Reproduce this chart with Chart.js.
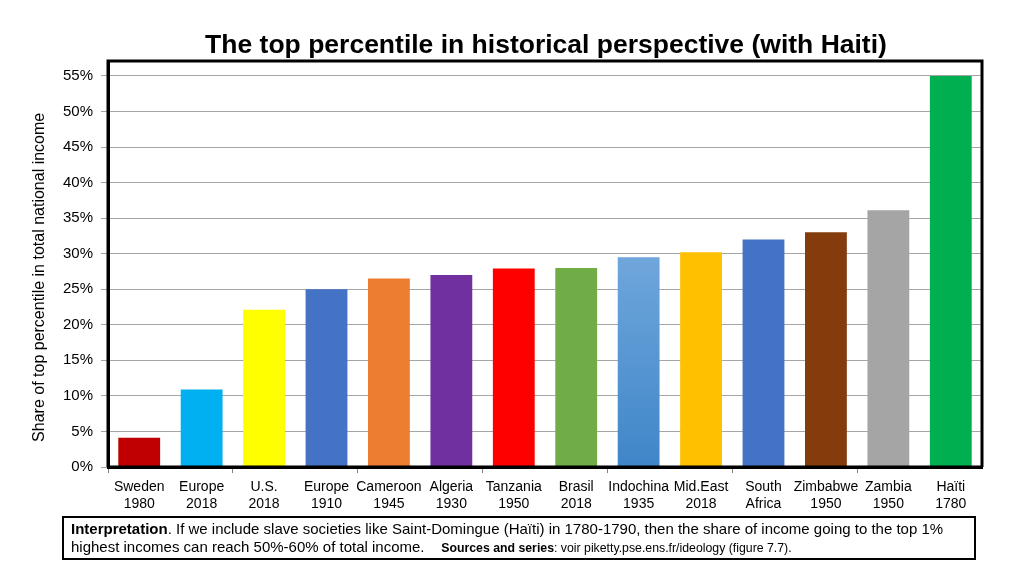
<!DOCTYPE html>
<html>
<head>
<meta charset="utf-8">
<script src="https://cdn.jsdelivr.net/npm/chart.js@4"></script>
<style>
  html, body { margin: 0; padding: 0; background: #fff; }
  #wrap { position: relative; width: 1024px; height: 576px; }
  #note {
    position: absolute; left: 62px; top: 516px; width: 903px; height: 38px;
    border: 2px solid #000; font-family: "Liberation Sans", Arial, sans-serif;
    font-size: 15px; line-height: 18px; color: #000; padding: 2px 0 0 7px; box-sizing: content-box;
    white-space: nowrap;
  }
  #note .src { font-size: 12.3px; }
</style>
</head>
<body>
<div id="wrap">
  <canvas id="chart" width="1024" height="576"></canvas>
  <div id="note"><b>Interpretation</b>. If we include slave societies like Saint-Domingue (Haïti) in 1780-1790, then the share of income going to the top 1%<br>highest incomes can reach 50%-60% of total income. &nbsp;&nbsp;&nbsp;<span class="src"><b>Sources and series</b>: voir piketty.pse.ens.fr/ideology (figure 7.7).</span></div>
</div>
<script>
// categories (two lines each)
var places = ['Sweden','Europe','U.S.','Europe','Cameroon','Algeria','Tanzania','Brasil','Indochina','Mid.East','South','Zimbabwe','Zambia','Haïti']
var years  = ['1980','2018','2018','1910','1945','1930','1950','2018','1935','2018','Africa','1950','1950','1780']
// share of top 1% in national income (%)
var shares = [4.1, 10.9, 22.1, 25.0, 26.5, 27.0, 27.9, 28.0, 29.5, 30.2, 32.0, 33.0, 36.1, 55.0]
var barColors = ['#C00000','#00B0F0','#FFFF00','#4472C4','#ED7D31','#7030A0','#FF0000','#70AD47','#5B9BD5','#FFC000','#4472C4','#843C0C','#A5A5A5','#00B050']
var yTicks = [0,5,10,15,20,25,30,35,40,45,50,55]
var titleText = 'The top percentile in historical perspective (with Haiti)'

var labels = places.map(function(p, i){ return [p, years[i]] })
var font = "'Liberation Sans', Arial, sans-serif"

// black frame round the plot area + title above it
const framePlugin = {
  id: 'frame',
  afterDraw(chart){
    const a = chart.chartArea, c = chart.ctx
    c.save()
    c.strokeStyle = '#000'
    c.lineWidth = 3
    c.beginPath()
    c.moveTo(a.left, a.bottom); c.lineTo(a.left, a.top)
    c.lineTo(a.right, a.top); c.lineTo(a.right, a.bottom)
    c.stroke()
    c.beginPath()
    c.moveTo(a.left, a.bottom); c.lineTo(a.right + 1, a.bottom)
    c.stroke()
    c.fillStyle = '#000'
    c.font = 'bold 26.5px ' + font
    c.textAlign = 'center'
    c.textBaseline = 'middle'
    c.fillText(titleText, 546, 46)
    c.restore()
  }
}

function barFill(ctx){
  var col = barColors[ctx.dataIndex]
  // Indochina bar has a soft gradient in the original
  if (ctx.dataIndex === 8 && ctx.chart.chartArea) {
    var a = ctx.chart.chartArea
    var y0 = ctx.chart.scales.y.getPixelForValue(shares[8])
    var g = ctx.chart.ctx.createLinearGradient(0, y0, 0, a.bottom)
    g.addColorStop(0, '#6FA6DC')
    g.addColorStop(1, '#3F86C8')
    return g
  }
  return col
}

new Chart(document.getElementById('chart'), {
  type: 'bar',
  data: {
    labels: labels,
    datasets: [{
      data: shares,
      backgroundColor: barFill,
      borderWidth: 0,
      barPercentage: 0.67,
      categoryPercentage: 1.0
    }]
  },
  options: {
    responsive: false,
    animation: false,
    layout: { padding: { top: 61, left: 0, right: 42, bottom: 0 } },
    plugins: {
      legend: { display: false },
      tooltip: { enabled: false },
      title: { display: false }
    },
    scales: {
      x: {
        grid: {
          display: true,
          drawOnChartArea: false,
          tickLength: 6,
          color: function(ctx){ return ctx.index % 2 === 0 ? '#808080' : 'rgba(0,0,0,0)' }
        },
        border: { color: '#000', width: 3 },
        ticks: {
          color: '#000',
          font: { family: font, size: 14 },
          maxRotation: 0,
          autoSkip: false,
          padding: 6
        },
        afterFit: function(s){ s.height = 109 }
      },
      y: {
        min: 0,
        max: 57.1,
        afterBuildTicks: function(s){ s.ticks = yTicks.map(function(v){ return { value: v } }) },
        grid: { color: '#A6A6A6', lineWidth: 1, tickLength: 7 },
        border: { color: '#000', width: 3 },
        ticks: {
          color: '#000',
          font: { family: font, size: 15 },
          padding: 8,
          callback: function(v){ return v + '%' }
        },
        title: {
          display: true,
          // trailing spaces nudge the text down a little, as in the original
          text: 'Share of top percentile in total national income      ',
          color: '#000',
          font: { family: font, size: 16 },
          padding: { top: 30, bottom: 4 }
        },
        afterFit: function(s){ s.width = 108 }
      }
    }
  },
  plugins: [framePlugin]
})
</script>
</body>
</html>
